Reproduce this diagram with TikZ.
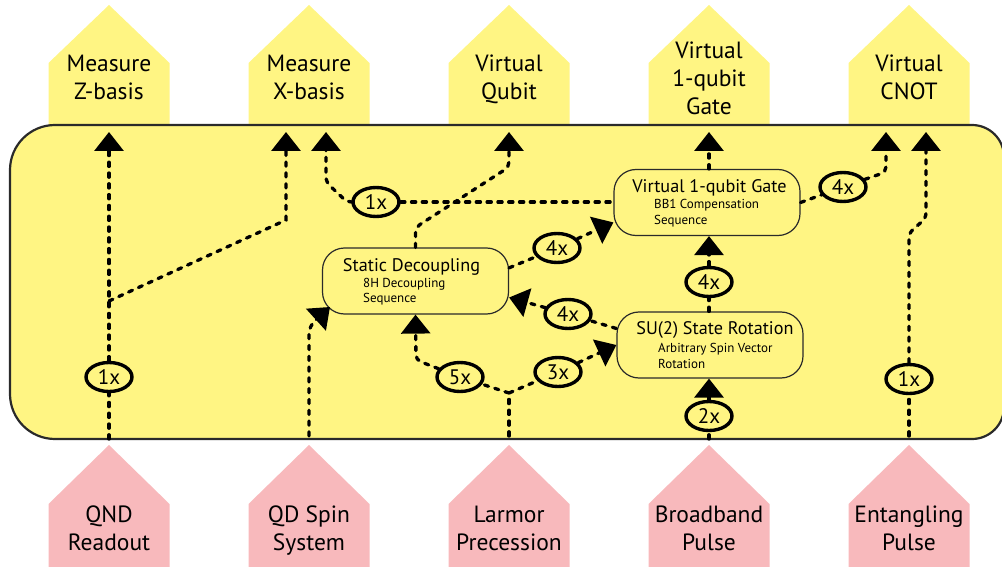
\documentclass[tikz,border=0pt]{standalone}
\usepackage{fontspec}
\setmainfont{PT Sans}
\usetikzlibrary{arrows.meta,shapes.geometric,calc}
\definecolor{panel}{HTML}{FFF583}
\definecolor{source}{HTML}{F8B9BC}
\definecolor{rim}{HTML}{2A2A2A}
\newcommand\stackc[1]{\begin{tabular}[t]{@{}c@{}}#1\end{tabular}}
\newcommand\stackl[1]{\begin{tabular}[t]{@{}l@{}}#1\end{tabular}}
\begin{document}
\begin{tikzpicture}[x=1pt,y=-1pt,
  lbl/.style={inner sep=0pt, anchor=base, font=\fontsize{23.5}{28}\selectfont},
  proc/.style={draw=rim, line width=1.2pt, rounded corners=22pt, fill=panel,
    minimum width=186pt, minimum height=66pt, inner sep=0pt},
  ttl/.style={inner sep=0pt, anchor=base, font=\fontsize{18.2}{20}\selectfont},
  sub/.style={inner sep=0pt, anchor=base west, font=\fontsize{13}{16}\selectfont},
  cnt/.style={ellipse, draw=black, line width=3.4pt, fill=panel, minimum width=46pt,
    minimum height=29pt, inner sep=0pt, font=\fontsize{21}{21}\selectfont},
  flow/.style={draw=black, line width=3.3pt, line cap=round, dash pattern=on 4.2pt off 6.6pt},
  tip/.style={-{Triangle[width=29pt,length=19pt]}}
]
\useasboundingbox (0,0) rectangle (1002,567);

% output pentagons (behind the panel)
\foreach \cx in {109,309,509,709,909}{
  \fill[panel] (\cx-60.5,126) -- (\cx-60.5,63) -- (\cx,5) -- (\cx+60.5,63) -- (\cx+60.5,126) -- cycle;
}
% input pentagons
\foreach \cx in {109,309,509,709,909}{
  \fill[source] (\cx-60.5,570) -- (\cx-60.5,504) -- (\cx,445) -- (\cx+60.5,504) -- (\cx+60.5,570) -- cycle;
}

% main panel
\path[draw=rim, fill=panel, line width=2.2pt]
  (10,300) [rounded corners=45pt] -- (10,125) -- (500,125)
  [rounded corners=32pt] -- (1004,125) -- (1004,439) -- (500,439)
  [rounded corners=45pt] -- (10,439) -- cycle;

% output labels
\node[lbl] (outZ)    at (109,72) {\stackc{Measure\\Z-basis}};
\node[lbl] (outX)    at (309,72) {\stackc{Measure\\X-basis}};
\node[lbl] (outQ)    at (509,72) {\stackc{Virtual\\Qubit}};
\node[lbl] (outG)    at (709,59) {\stackc{Virtual\\1-qubit\\Gate}};
\node[lbl] (outC)    at (909,72) {\stackc{Virtual\\CNOT}};
% input labels
\node[lbl] (inQND)   at (109,522) {\stackc{QND\\Readout}};
\node[lbl] (inSpin)  at (309,522) {\stackc{QD Spin\\System}};
\node[lbl] (inLar)   at (509,522) {\stackc{Larmor\\Precession}};
\node[lbl] (inBB)    at (709,522) {\stackc{Broadband\\Pulse}};
\node[lbl] (inEnt)   at (909,522) {\stackc{Entangling\\Pulse}};

% process boxes
\node[proc] (SD) at (415.5,281) {};
\node[proc] (VG) at (707,202.5) {};
\node[proc] (SU) at (710,345) {};
\node[ttl] (SDt) at (411.5,271) {Static Decoupling};
\node[sub] (SDs) at (363,287) {\stackl{8H Decoupling\\Sequence}};
\node[ttl] (VGt) at (709.5,192.5) {Virtual 1-qubit Gate};
\node[sub] (VGs) at (654,208.5) {\stackl{BB1 Compensation\\Sequence}};
\node[ttl] (SUt) at (715,334) {SU(2) State Rotation};
\node[sub] (SUs) at (658,352) {\stackl{Arbitrary Spin Vector\\Rotation}};

% entry and exit points on the panel
\coordinate (qndIn) at (109,439);
\coordinate (qdIn)  at (309,436);
\coordinate (larIn) at (509,436);
\coordinate (bbIn)  at (709,439);
\coordinate (entIn) at (909,436);
\coordinate (tipZ)  at (109,132);
\coordinate (tipXa) at (286,132);
\coordinate (tipXb) at (326,132);
\coordinate (tipQ)  at (509,132);
\coordinate (tipG)  at (709,132);
\coordinate (tipCa) at (886,132);
\coordinate (tipCb) at (926,132);
\coordinate (fork)  at (109,301);
\coordinate (lj)    at (509,393);
\coordinate (qdTip) at (330,307);

% repetition counters
\node[cnt] (e1)  at (109,377) {1x};
\node[cnt] (e2)  at (376,202) {1x};
\node[cnt] (e3)  at (843,187) {4x};
\node[cnt] (e4)  at (909,379) {1x};
\node[cnt] (e5)  at (709,416) {2x};
\node[cnt] (e6)  at (709,282) {4x};
\node[cnt] (e7)  at (568,314) {4x};
\node[cnt] (e8)  at (460,377) {5x};
\node[cnt] (e9)  at (558,372) {3x};
\node[cnt] (e10) at (557,248) {4x};

% QND readout
\draw[flow] (qndIn) -- (e1);
\draw[flow,tip] (e1) -- (tipZ);
\draw[flow,tip] (fork) -- (286,220) -- (tipXa);
% virtual gate to X-basis
\draw[flow] (e2) -- (e2 -| VG.west);
\draw[flow,tip,rounded corners=5pt] (e2) -- (347,202) -- (326,182) -- (tipXb);
% static decoupling to virtual qubit
\draw[flow,tip,rounded corners=5pt] (SD.north) -- ++(0,-20) -- (509,167) -- (tipQ);
% virtual gate out
\draw[flow,tip] (VG.north -| tipG) -- (tipG);
\draw[flow] (VG.east) -- (e3);
\draw[flow,tip,rounded corners=5pt] (e3) -- (886,172) -- (tipCa);
% entangling pulse
\draw[flow] (entIn) -- (e4);
\draw[flow,tip,rounded corners=5pt] (e4) -- (909,233) -- (926,218) -- (tipCb);
% broadband pulse
\draw[flow] (bbIn) -- (e5);
\draw[flow,tip] (e5) -- (e5 |- SU.south);
\draw[flow] (SU.north -| e6) -- (e6);
\draw[flow,tip] (e6) -- (e6 |- VG.south);
% rotation to decoupling
\draw[flow] (SU.170) -- (e7);
\draw[flow,tip] (e7) -- (SD.-10);
% Larmor precession
\draw[flow] (larIn) -- (lj);
\draw[flow] (lj) -- (e8);
\draw[flow,tip,rounded corners=5pt] (e8) -- (416,360) -- (SD.south);
\draw[flow] (lj) -- (e9);
\draw[flow,tip] (e9) -- (SU.west);
% decoupling to virtual gate
\draw[flow] (SD.8) -- (e10);
\draw[flow,tip] (e10) -- (VG.192);
% spin system
\draw[flow,tip,rounded corners=8pt] (qdIn) -- (309,326) -- (qdTip);
\end{tikzpicture}
\end{document}
